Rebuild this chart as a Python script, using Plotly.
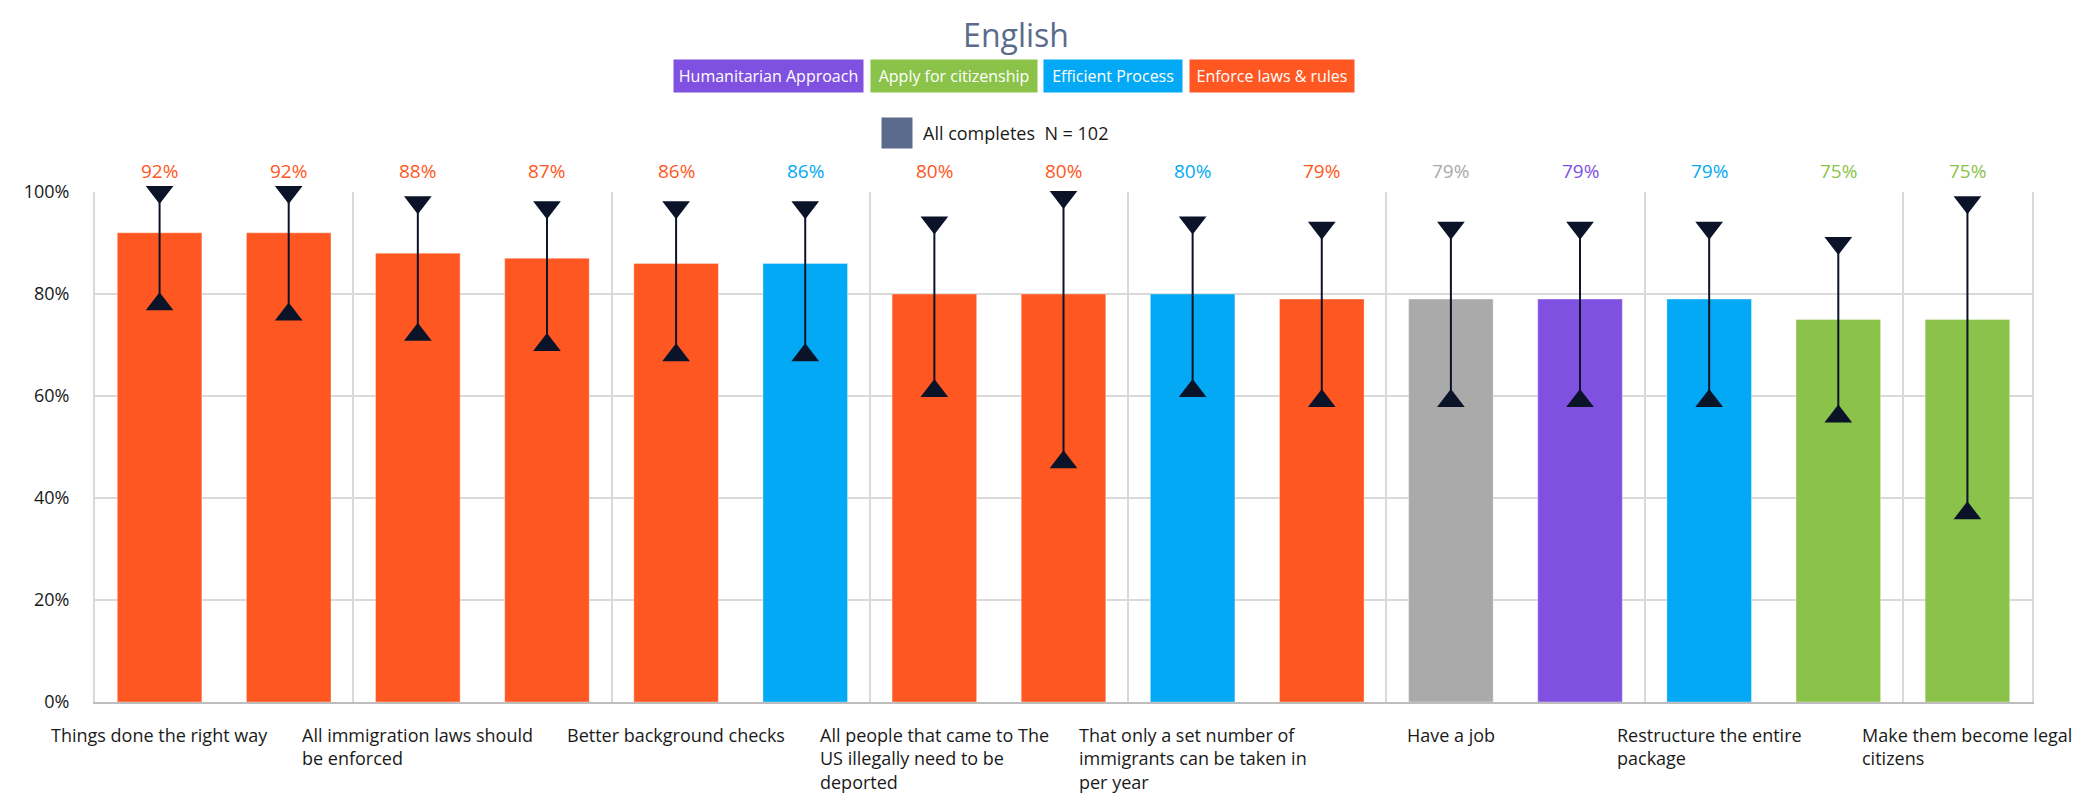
import plotly.graph_objects as go

# ---------------- data ----------------
labels = [
    "Things done the right way", None,
    "All immigration laws should<br>be enforced", None,
    "Better background checks", None,
    "All people that came to The<br>US illegally need to be<br>deported", None,
    "That only a set number of<br>immigrants can be taken in<br>per year", None,
    "Have a job", None,
    "Restructure the entire<br>package", None,
    "Make them become legal<br>citizens",
]
groups = [
    "Enforce laws & rules", "Enforce laws & rules", "Enforce laws & rules",
    "Enforce laws & rules", "Enforce laws & rules", "Efficient Process",
    "Enforce laws & rules", "Enforce laws & rules", "Efficient Process",
    "Enforce laws & rules", "Other", "Humanitarian Approach",
    "Efficient Process", "Apply for citizenship", "Apply for citizenship",
]
values = [92, 92, 88, 87, 86, 86, 80, 80, 80, 79, 79, 79, 79, 75, 75]
upper = [100, 100, 98, 97, 97, 97, 94, 99, 94, 93, 93, 93, 93, 90, 98]
lower = [78, 76, 72, 70, 68, 68, 61, 47, 61, 59, 59, 59, 59, 56, 37]
legend_groups = ["Humanitarian Approach", "Apply for citizenship",
                 "Efficient Process", "Enforce laws & rules"]
y_ticks = [0, 20, 40, 60, 80, 100]
y_tick_labels = ["0%", "20%", "40%", "60%", "80%", "100%"]
title_text = "English"
sample_text = "All completes\u00a0\u00a0N = 102"

# ---------------- style ----------------
group_colors = {
    "Humanitarian Approach": "#8051E0",
    "Apply for citizenship": "#8BC34A",
    "Efficient Process": "#03A9F4",
    "Enforce laws & rules": "#FF5722",
    "Other": "#AAAAAA",
}
NAVY = "#0B1329"
SLATE = "#5B6B8C"
GRID = "#D9D9D9"
FONT = "Open Sans"

W, H = 2082, 812
ML, MR, MT, MB = 95, 50, 192, 110
PW, PH = W - ML - MR, H - MT - MB


def px_x(p):
    return (p - ML) / PW


def px_y(p):
    return (H - MB - p) / PH


n = len(values)
xs = list(range(n))
bar_colors = [group_colors[g] for g in groups]

fig = go.Figure()

fig.add_trace(go.Bar(
    x=xs, y=values,
    marker=dict(color=bar_colors, line=dict(color="rgba(255,255,255,0.35)", width=1)),
    showlegend=False, hoverinfo="y",
))

ex, ey, esym = [], [], []
for i in range(n):
    ex += [xs[i], xs[i], None]
    ey += [upper[i], lower[i], None]
    esym += ["triangle-down", "triangle-up", "circle"]

fig.add_trace(go.Scatter(
    x=ex, y=ey, mode="lines+markers",
    line=dict(color=NAVY, width=2),
    marker=dict(symbol=esym, size=24, color=NAVY),
    showlegend=False, hoverinfo="skip", cliponaxis=False,
))

annotations = []
# value labels above the plot
for i in range(n):
    annotations.append(dict(
        x=xs[i], y=1, xref="x", yref="paper", yanchor="bottom", yshift=6,
        text=f"{values[i]}%", showarrow=False,
        font=dict(family=FONT, size=19, color=bar_colors[i]),
    ))
# category labels (every other category shown)
for i in range(n):
    if labels[i]:
        annotations.append(dict(
            x=xs[i], y=0, xref="x", yref="paper", yanchor="top", xanchor="center",
            yshift=-19, align="left", text=labels[i], showarrow=False,
            font=dict(family=FONT, size=18, color="#1A1A1A"),
        ))
# group legend buttons
button_geo = [(768.5, 189), (954, 166), (1113, 138), (1272, 164)]
for g, (cx, bw) in zip(legend_groups, button_geo):
    annotations.append(dict(
        x=px_x(cx), y=px_y(76), xref="paper", yref="paper",
        xanchor="center", yanchor="middle", text=g, showarrow=False,
        width=bw, height=32, borderpad=0, bgcolor=group_colors[g],
        font=dict(family=FONT, size=16, color="white"),
    ))
# sample legend
annotations.append(dict(
    x=px_x(897), y=px_y(133), xref="paper", yref="paper",
    xanchor="center", yanchor="middle", text=" ", showarrow=False,
    width=30, height=30, borderpad=0, bgcolor=SLATE,
))
annotations.append(dict(
    x=px_x(921), y=px_y(133), xref="paper", yref="paper",
    xanchor="left", yanchor="middle", text=sample_text, showarrow=False,
    font=dict(family=FONT, size=18, color="#1A1A1A"),
))

fig.update_layout(
    width=W, height=H,
    margin=dict(l=ML, r=MR, t=MT, b=MB, autoexpand=False),
    paper_bgcolor="white", plot_bgcolor="white",
    bargap=0.345,
    title=dict(text=title_text, x=1016 / W, xref="container", xanchor="center",
               y=1 - 36 / H, yref="container", yanchor="middle",
               font=dict(family=FONT, size=32, color=SLATE)),
    annotations=annotations,
    xaxis=dict(
        range=[-0.5, n - 0.5], tickmode="array",
        tickvals=[v - 0.5 for v in xs[::2]],
        showticklabels=False, showgrid=True, gridcolor=GRID, gridwidth=2,
        showline=True, linecolor="#BDBDBD", linewidth=2, zeroline=False,
        fixedrange=True,
    ),
    yaxis=dict(
        range=[0, 100], tickmode="array", tickvals=y_ticks, ticktext=y_tick_labels,
        showgrid=True, gridcolor=GRID, gridwidth=2, zeroline=False,
        showline=True, mirror=True, linecolor=GRID, linewidth=2,
        ticklabelstandoff=20,
        tickfont=dict(family=FONT, size=18, color="#1A1A1A"),
        fixedrange=True,
    ),
    font=dict(family=FONT),
)

fig.write_html("out.html")
